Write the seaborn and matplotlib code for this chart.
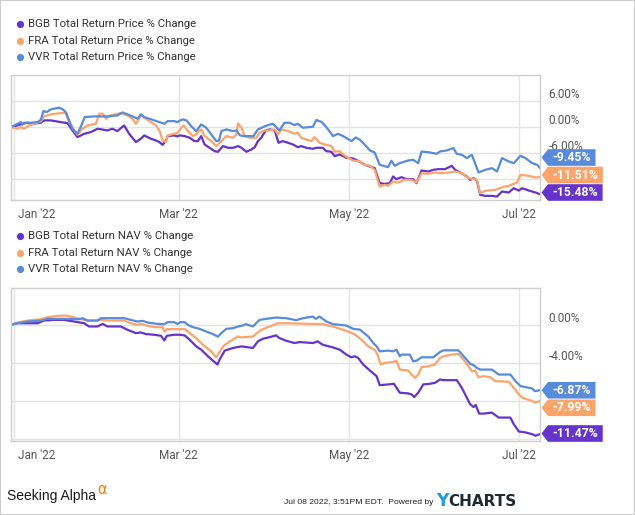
import numpy as np
import pandas as pd
import matplotlib
matplotlib.use("Agg")
import matplotlib.pyplot as plt
import seaborn as sns
from matplotlib.patches import Polygon, Rectangle
from matplotlib.lines import Line2D
from matplotlib.transforms import ScaledTranslation

# ---------------- data (days since 2022-01-01, % change) ----------------
START = pd.Timestamp("2022-01-01")
TICKERS = ["BGB", "FRA", "VVR"]
COLORS = ["#6633cc", "#fda46b", "#588bd9"]

bgb_price_days = [-1, 1.3, 3.1, 4.9, 6.7, 9.7, 10.8, 13.2, 16.8, 19.2, 21.0, 22.8, 25.2, 27.6, 30.0, 33.5, 35.3, 37.1, 39.5, 41.3, 43.7, 45.5, 46.7, 49.1, 50.9, 52.1, 53.3, 54.5, 55.1, 57.4, 58.6,
                  59.4, 61.2, 63.0, 64.7, 65.9, 67.1, 68.3, 70.1, 71.9, 73.1, 74.9, 76.7, 78.5, 80.3, 81.5, 83.3, 85.1, 86.3, 87.4, 88.6, 90.2, 91.6, 93.4, 94.8, 96.3, 98.2, 99.9, 101.7, 102.9, 104.7, 107.1, 108.3, 110.6, 111.9, 113.7, 114.9, 116.7, 119.1, 121.5, 123.9,
                  125.7, 127.5, 129.2, 131.0, 132.8, 134.6, 135.8, 137.0, 138.8, 140.6, 143.0, 144.2, 146.0, 148.4, 150.2, 152.0, 154.4, 156.8, 158.0, 159.8, 162.2, 163.4, 164.6, 165.8, 167.0, 168.8, 171.2, 173.0, 174.8, 177.2, 179.0, 180.8, 182.0, 184.4, 186.8, 188.4]
bgb_price_pct = [0, 0.38, 0.77, 1.0, 0.77, 1.0, 1.54, 1.54, 1.15, 0.92, -0.77, -2.31, -1.54, -1.15, -0.38, -0.77, -0.38, -0.92, 0.38, -1.54, -3.46, -2.69, -1.92, -2.69, -3.08, -3.46, -4.08, -3.08, -2.08, -1.92, -2.15,
                 -1.9, -2.08, -2.46, -3.23, -3.23, -2.08, -4.0, -4.77, -5.54, -5.69, -4.38, -4.77, -4.77, -4.38, -4.77, -5.69, -5.15, -4.62, -3.23, -2.46, -0.77, -0.54, -0.77, -3.62, -3.23, -3.62, -4.0, -4.62, -4.38, -4.77, -5.0, -4.77, -4.77, -5.54, -5.69, -6.69, -6.31, -7.08, -7.23, -8.0,
                 -8.69, -9.08, -9.46, -12.92, -13.08, -12.92, -11.38, -12.0, -11.54, -12.0, -12.0, -12.92, -10.0, -10.23, -9.85, -9.69, -9.69, -8.92, -9.85, -10.46, -11.38, -12.15, -11.77, -12.31, -15.62, -15.85, -15.85, -16.0, -14.85, -15.08, -14.08, -14.62, -14.08, -14.62, -15.08, -15.48]

fra_price_days = [-1, 1.3, 2.5, 3.7, 5.5, 7.3, 9.7, 10.8, 13.2, 16.8, 18.6, 19.8, 21.6, 22.8, 24.6, 26.4, 29.4, 30.6, 31.8, 33.0, 34.7, 38.3, 40.7, 42.5, 43.7, 44.9, 45.5, 46.7, 49.1, 50.9, 52.1, 53.3, 54.5, 55.1, 57.4, 58.6,
                  59.8, 60.8, 62.3, 64.1, 65.3, 66.5, 67.1, 68.3, 70.7, 72.5, 74.3, 76.1, 78.5, 79.7, 80.3, 81.5, 82.7, 84.4, 86.8, 88.0, 89.8, 91.6, 93.4, 94.6, 95.8, 98.2, 100.5, 101.7, 102.9, 104.7, 106.5, 107.7, 109.5, 111.3, 113.7, 114.9, 116.7, 117.9, 119.7, 121.5, 123.9,
                  125.7, 127.5, 129.2, 131.0, 132.8, 134.0, 135.8, 137.6, 140.0, 142.4, 144.2, 146.0, 148.4, 150.8, 153.2, 155.6, 158.0, 160.4, 162.8, 164.6, 165.8, 167.0, 168.8, 172.4, 174.8, 177.2, 180.2, 181.4, 184.4, 186.8, 188.4]
fra_price_pct = [0, -0.38, 0, -0.38, 0.38, 0.77, 1.31, 2.46, 2.92, 3.23, 3.23, 1.15, -0.77, -1.77, -0.38, 0.38, 0.77, 3.08, 3.08, 1.92, 2.69, 3.23, 2.69, 1.92, 0.77, 1.92, 2.92, 2.15, 1.15, 0.38, -0.77, -3.08, -3.46, -1.92, -1.54, -1.38,
                 -0.3, 0.4, -0.92, -2.08, -1.69, -0.77, -0.54, -2.08, -3.23, -4.38, -3.23, -2.08, -2.46, -1.69, 0.85, -0.15, -2.08, -2.46, -2.46, -1.31, -0.77, -0.77, -0.54, -1.69, -0.54, -0.92, -1.54, -1.31, -2.46, -2.85, -3.23, -2.31, -3.62, -4.0, -4.38, -5.69, -5.54, -6.31, -7.08, -7.7, -7.9,
                 -8.69, -8.92, -9.85, -13.69, -13.31, -13.54, -12.54, -12.77, -12.15, -12.15, -12.77, -10.62, -10.77, -10.46, -10.62, -10.46, -10.23, -10.62, -11.77, -12.0, -12.15, -15.23, -14.69, -14.46, -13.85, -13.54, -12.77, -11.0, -11.23, -11.62, -11.51]

vvr_price_days = [-1, 0.7, 2.5, 3.1, 3.7, 6.1, 8.5, 9.7, 10.6, 11.8, 13.2, 16.2, 17.4, 18.6, 19.8, 21.0, 22.8, 24.2, 25.4, 28.8, 33.5, 37.1, 38.9, 40.7, 42.5, 44.3, 45.5, 46.7, 50.3, 53.9, 55.1, 57.4, 58.6,
                  59.8, 60.6, 61.8, 63.5, 65.3, 67.1, 68.9, 70.7, 72.5, 73.5, 74.3, 76.1, 78.5, 79.7, 80.9, 82.0, 85.8, 87.4, 89.2, 91.0, 92.8, 95.1, 96.9, 98.7, 100.5, 101.7, 103.5, 107.1, 108.3, 110.1, 111.9, 114.3, 116.1, 117.9, 120.9, 122.4, 123.9,
                  125.7, 127.5, 129.2, 131.0, 134.0, 135.2, 136.4, 138.2, 141.2, 143.0, 144.8, 146.0, 149.0, 151.4, 152.6, 155.0, 157.4, 158.6, 160.4, 162.2, 164.0, 166.4, 168.8, 171.2, 173.0, 174.8, 177.2, 179.0, 181.4, 183.2, 185.6, 187.4, 188.4]
vvr_price_pct = [0, 0.54, 1.15, 0.54, 1.0, 1.0, 1.15, 1.69, 3.69, 3.46, 4.08, 4.46, 4.15, 3.46, 1.54, -0.38, -1.54, 0.38, 2.31, 2.46, 2.46, 2.69, 3.38, 2.92, 2.46, 1.92, 2.92, 2.31, 1.54, 0.77, 1.38, 1.38, 1.15,
                 1.6, 1.77, 1.54, 0.23, -0.92, 0.62, -0.15, -1.69, -3.23, -3.08, -0.92, -0.54, -0.92, -0.77, -1.85, -2.08, -2.08, -0.54, 0.0, 0.46, 0.77, -0.77, 1.0, 1.0, 0.46, 0.77, -0.15, 0.08, 1.62, 1.23, 0.0, -2.08, -1.54, -2.08, -3.23, -2.4, -2.9,
                 -4.08, -5.38, -5.85, -8.69, -9.23, -7.77, -8.92, -8.31, -7.69, -7.54, -8.31, -5.62, -5.85, -6.15, -5.62, -5.38, -4.85, -6.15, -6.38, -7.15, -6.38, -10.46, -9.85, -9.46, -10.23, -7.15, -7.92, -8.31, -6.62, -7.15, -8.31, -8.69, -9.45]

bgb_nav_days = [-1, 1.3, 8.5, 10.8, 14.4, 18.0, 21.6, 25.2, 26.9, 30.0, 31.8, 33.5, 38.3, 40.7, 43.7, 45.5, 47.3, 50.3, 52.7, 53.9, 54.8, 57.4, 59.4,
                61.2, 63.0, 65.3, 67.1, 69.5, 71.3, 72.9, 73.7, 75.5, 78.5, 81.5, 85.6, 87.4, 89.2, 91.6, 93.9, 95.1, 97.5, 100.5, 102.3, 107.1, 108.8, 110.6, 114.3, 116.7, 119.1, 120.9,
                122.1, 123.3, 125.1, 127.5, 129.9, 131.0, 134.0, 136.1, 138.2, 141.2, 142.4, 143.4, 144.8, 146.6, 149.0, 150.8, 152.6, 153.8, 158.6, 160.4, 162.2, 163.4, 164.6, 165.4, 166.6, 168.2, 171.2, 173.6, 177.8, 179.0, 180.8, 183.2, 185.6, 186.8, 188.4]
bgb_nav_pct = [0, 0.17, 0.17, 0.45, 0.52, 0.52, 0.35, 0.17, -0.17, -0.17, 0.10, -0.17, -0.17, -0.52, -0.87, -0.80, -0.97, -1.04, -1.15, -1.63, -1.15, -1.04, -1.04,
               -1.11, -1.57, -2.26, -2.61, -3.30, -3.76, -4.17, -3.65, -2.71, -2.43, -2.26, -2.43, -1.74, -1.46, -1.29, -1.11, -1.39, -1.67, -1.91, -1.81, -1.91, -1.74, -2.09, -2.37, -2.61, -3.13, -3.41,
               -3.30, -3.48, -4.17, -4.80, -5.39, -6.33, -6.26, -6.19, -7.13, -7.20, -7.30, -7.58, -7.13, -6.26, -6.19, -6.09, -5.74, -5.81, -5.81, -6.61, -7.65, -8.35, -8.63, -8.42, -9.32, -9.32, -9.22, -9.74, -9.74, -10.43, -11.20, -11.30, -11.48, -11.65, -11.47]

fra_nav_days = [-1, 1.3, 4.9, 9.7, 12.0, 15.6, 18.6, 21.6, 24.0, 26.4, 30.0, 31.2, 33.5, 39.5, 41.9, 44.3, 45.5, 47.9, 50.3, 53.3, 53.9, 54.8, 57.4, 58.6,
                61.2, 63.0, 65.3, 67.7, 70.7, 72.5, 73.1, 74.9, 77.3, 80.3, 81.5, 85.6, 88.6, 91.6, 94.6, 97.5, 101.1, 107.1, 110.6, 114.3, 117.9, 120.3, 122.1,
                124.5, 126.9, 129.2, 130.2, 131.4, 132.8, 135.8, 137.0, 138.2, 141.2, 142.4, 143.6, 144.8, 146.0, 148.4, 150.8, 152.6, 153.8, 156.8, 159.2, 161.0, 162.8, 164.0, 165.2, 166.4, 168.2, 170.6, 172.4, 177.2, 179.0, 180.8, 182.0, 185.6, 186.8, 188.4]
fra_nav_pct = [0, 0.24, 0.45, 0.59, 0.80, 0.94, 0.97, 0.80, 0.59, 0.45, 0.45, 0.52, 0.45, 0.45, 0.17, 0.0, 0.10, -0.10, -0.24, -0.24, -0.70, -0.45, -0.45, -0.45,
               -0.45, -0.87, -1.39, -2.09, -2.78, -3.41, -3.13, -2.26, -1.74, -1.22, -1.32, -1.22, -0.52, -0.17, 0.17, 0.17, 0.14, 0.10, 0.07, -0.17, -0.52, -0.77, -1.0,
               -1.57, -2.26, -2.61, -3.13, -4.17, -4.0, -3.90, -3.76, -4.70, -4.80, -5.22, -5.57, -5.22, -4.45, -4.35, -4.17, -3.48, -3.30, -3.13, -3.06, -3.65, -4.35, -4.87, -4.80, -5.50, -5.39, -5.50, -5.91, -5.98, -6.61, -7.30, -7.65, -8.0, -8.17, -7.99]

vvr_nav_days = [-1, 1.3, 4.9, 9.7, 12.0, 18.0, 23.4, 24.6, 26.4, 30.0, 31.2, 39.5, 41.9, 44.3, 46.1, 47.9, 51.5, 53.9, 55.1, 57.4, 58.6,
                59.6, 61.2, 62.3, 64.1, 66.5, 68.9, 71.3, 73.1, 74.3, 76.1, 78.5, 80.3, 82.0, 83.2, 85.6, 88.0, 90.4, 93.9, 97.5, 101.1, 103.5, 107.1, 108.1, 109.5, 111.9, 114.3, 116.7, 119.1, 121.5, 123.9,
                126.9, 128.7, 129.9, 131.0, 134.0, 135.8, 137.0, 138.2, 138.8, 141.8, 143.0, 144.2, 146.0, 150.2, 152.6, 153.8, 159.2, 161.6, 163.4, 164.6, 165.8, 167.0, 171.2, 173.6, 177.8, 179.6, 181.4, 183.2, 185.6, 186.5, 188.4]
vvr_nav_pct = [0, 0.17, 0.35, 0.45, 0.63, 0.63, 0.59, 0.70, 0.45, 0.45, 0.70, 0.70, 0.52, 0.35, 0.42, 0.24, 0.10, 0.07, 0.28, 0.28, 0.10,
               0.28, 0.28, 0.0, -0.24, -0.42, -0.70, -0.97, -1.25, -0.87, -0.42, -0.35, -0.17, -0.07, 0.07, -0.17, 0.52, 0.63, 0.77, 0.70, 0.49, 0.70, 0.87, 0.63, 0.87, 0.35, 0.07, 0.0, -0.07, -0.42, -0.5,
               -1.22, -1.91, -2.26, -2.78, -2.71, -2.78, -2.61, -3.30, -3.13, -3.13, -3.83, -3.76, -3.41, -3.41, -2.85, -2.68, -2.68, -3.48, -4.10, -4.24, -4.52, -4.70, -4.70, -5.22, -5.22, -5.91, -6.43, -6.54, -6.68, -6.96, -6.87]

price_labels = ["BGB Total Return Price % Change", "FRA Total Return Price % Change", "VVR Total Return Price % Change"]
nav_labels = ["BGB Total Return NAV % Change", "FRA Total Return NAV % Change", "VVR Total Return NAV % Change"]
price_badges = ["-15.48%", "-11.51%", "-9.45%"]
nav_badges = ["-11.47%", "-7.99%", "-6.87%"]
month_ticks = ["2022-01-01", "2022-03-01", "2022-05-01", "2022-07-01"]
month_labels = ["Jan '22", "Mar '22", "May '22", "Jul '22"]
price_yticks = [-12, -6, 0, 6]
price_ytick_labels = ["", "-6.00%", "0.00%", "6.00%"]
nav_yticks = [-12, -8, -4, 0]
nav_ytick_labels = ["", "", "-4.00%", "0.00%"]


def frame(series):
    parts = []
    for t, (d, v) in zip(TICKERS, series):
        parts.append(pd.DataFrame({"date": START + pd.to_timedelta(np.array(d), unit="D"),
                                   "pct": v, "ticker": t}))
    return pd.concat(parts, ignore_index=True)


price_df = frame([(bgb_price_days, bgb_price_pct), (fra_price_days, fra_price_pct), (vvr_price_days, vvr_price_pct)])
nav_df = frame([(bgb_nav_days, bgb_nav_pct), (fra_nav_days, fra_nav_pct), (vvr_nav_days, vvr_nav_pct)])

# ---------------- styling ----------------
sns.set_theme(style="white")
plt.rcParams["font.family"] = ["Roboto", "DejaVu Sans"]

W, H = 635, 515
fig = plt.figure(figsize=(W / 100, H / 100), dpi=100)
fig.patch.set_facecolor("white")

GRID = "#e4e4e4"
SPINE = "#cfcfcf"
TXT = "#555555"


def fx(x):
    return x / W


def fy(y):
    return 1 - y / H


def legend_rows(labels, first_y, step=16.7):
    for k, (lab, c) in enumerate(zip(labels, COLORS)):
        y = first_y + k * step
        fig.add_artist(Line2D([fx(20)], [fy(y)], marker="o", linestyle="", markersize=5.2,
                              color=c, markeredgewidth=0, transform=fig.transFigure))
        fig.text(fx(28.5), fy(y), lab, fontsize=8.2, color="#333333", ha="left", va="center")


def setup(ax, df, yticks, ylabels, ylim, labels, leg_y):
    sns.lineplot(data=df, x="date", y="pct", hue="ticker", hue_order=TICKERS,
                 palette=COLORS, ax=ax, legend=False, linewidth=1.6, estimator=None)
    ax.set_xlim(START + pd.Timedelta(days=-1), START + pd.Timedelta(days=188.4))
    ax.set_ylim(*ylim)
    ax.set_xlabel("")
    ax.set_ylabel("")
    ax.set_xticks(pd.to_datetime(month_ticks))
    ax.set_xticklabels(month_labels)
    ax.set_yticks(yticks)
    ax.set_yticklabels(ylabels)
    ax.yaxis.tick_right()
    ax.tick_params(axis="both", length=0, labelsize=8.5, labelcolor=TXT)
    ax.tick_params(axis="x", pad=6)
    ax.tick_params(axis="y", pad=6)
    for lbl in ax.get_yticklabels():
        lbl.set_verticalalignment("bottom")
    first = ax.get_xticklabels()[0]
    first.set_transform(first.get_transform() + ScaledTranslation(0.23, 0, fig.dpi_scale_trans))
    ax.grid(True, color=GRID, linewidth=1)
    for s in ax.spines.values():
        s.set_color(SPINE)
        s.set_linewidth(1)
    legend_rows(labels, leg_y)


ax1 = fig.add_axes([fx(11), fy(200), fx(529), 125 / H])
ax2 = fig.add_axes([fx(11), fy(441), fx(529), 153 / H])
setup(ax1, price_df, price_yticks, price_ytick_labels, (-16.8, 12.0), price_labels, 23.8)
setup(ax2, nav_df, nav_yticks, nav_ytick_labels, (-12.2, 3.87), nav_labels, 236)


def badges(ax, finals, texts):
    fig.canvas.draw()
    r = fig.canvas.get_renderer()
    step = 17.5
    ys = [H - ax.transData.transform((0, v))[1] for v in finals]
    order = list(np.argsort(ys))
    pos = [ys[i] for i in order]
    for k in range(1, len(pos)):
        pos[k] = max(pos[k], pos[k - 1] + step)
    limit = H - ax.get_position().y0 * H - 7.5
    pos[-1] = min(pos[-1], limit)
    for k in range(len(pos) - 2, -1, -1):
        pos[k] = min(pos[k], pos[k + 1] - step)
    for k, i in enumerate(order):
        y = pos[k]
        t = fig.text(fx(552), fy(y), texts[i], color="white", fontsize=8.8,
                     fontweight="bold", ha="left", va="center", zorder=6)
        bb = t.get_window_extent(r)
        right = bb.x1 + 5
        half = 8.3
        pts = [(fx(541.5), fy(y)), (fx(548), fy(y - half)), (fx(right), fy(y - half)),
               (fx(right), fy(y + half)), (fx(548), fy(y + half))]
        fig.add_artist(Polygon(pts, closed=True, transform=fig.transFigure,
                               facecolor=COLORS[i], edgecolor="none", zorder=5))


badges(ax1, [bgb_price_pct[-1], fra_price_pct[-1], vvr_price_pct[-1]], price_badges)
badges(ax2, [bgb_nav_pct[-1], fra_nav_pct[-1], vvr_nav_pct[-1]], nav_badges)

# ---------------- footer ----------------
narrow = ["Liberation Sans Narrow", "Liberation Sans", "DejaVu Sans"]
sa = fig.text(fx(7), fy(496), "Seeking Alpha", fontsize=10.0, color="#1a1a1a",
              family=narrow, ha="left", va="center")
r = fig.canvas.get_renderer()
sa_right = sa.get_window_extent(r).x1
fig.text((sa_right + 1) / W, fy(489), "\u03b1", fontsize=10.5, color="#ff7a00",
         family=["DejaVu Sans"], ha="left", va="center")
fig.text(fx(433), fy(502), "Jul 08 2022, 3:51PM EDT.  Powered by", fontsize=6.1,
         color="#222222", family=narrow, ha="right", va="center")
fig.text(fx(436), fy(501), "Y", fontsize=12.5, color="#1e9fdc", fontweight="bold",
         family=["DejaVu Sans"], ha="left", va="center")
fig.text(fx(448), fy(501), "CHARTS", fontsize=11, color="#1f2a33", fontweight="bold",
         family=["DejaVu Sans"], ha="left", va="center")

fig.add_artist(Rectangle((0, 0), 1, 1, transform=fig.transFigure, fill=False,
                         edgecolor="#cccccc", linewidth=1.5, zorder=10))

fig.savefig("out.png", dpi=100, facecolor="white")
